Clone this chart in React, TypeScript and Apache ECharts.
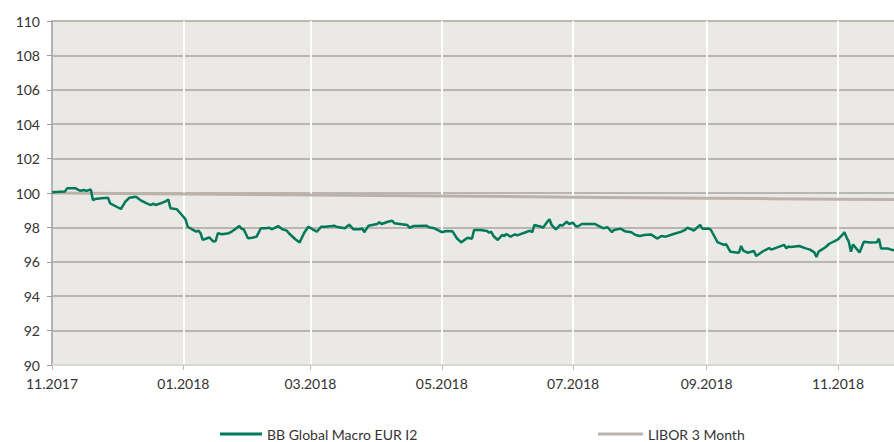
import React, { useEffect, useRef } from "react";
import * as echarts from "echarts";

const fundName = "BB Global Macro EUR I2";
const liborName = "LIBOR 3 Month";

const fundDates: string[] = [
  "2017-11-01","2017-11-07","2017-11-08","2017-11-12","2017-11-14","2017-11-16","2017-11-17","2017-11-19","2017-11-20","2017-11-21",
  "2017-11-24","2017-11-27","2017-11-28","2017-12-01","2017-12-03","2017-12-05","2017-12-07","2017-12-10","2017-12-12","2017-12-15",
  "2017-12-17","2017-12-18","2017-12-19","2017-12-22","2017-12-24","2017-12-25","2017-12-26","2017-12-29","2017-12-30","2018-01-01",
  "2018-01-02","2018-01-03","2018-01-05","2018-01-07","2018-01-08","2018-01-09","2018-01-10","2018-01-12","2018-01-13","2018-01-15",
  "2018-01-16","2018-01-17","2018-01-19","2018-01-22","2018-01-23","2018-01-25","2018-01-27","2018-01-28","2018-01-29","2018-01-31",
  "2018-02-02","2018-02-04","2018-02-06","2018-02-08","2018-02-10","2018-02-11","2018-02-14","2018-02-16","2018-02-18","2018-02-19",
  "2018-02-22","2018-02-24","2018-02-26","2018-02-28","2018-03-02","2018-03-04","2018-03-06","2018-03-08","2018-03-11","2018-03-12",
  "2018-03-13","2018-03-17","2018-03-19","2018-03-21","2018-03-24","2018-03-25","2018-03-26","2018-03-28","2018-04-01","2018-04-02",
  "2018-04-03","2018-04-06","2018-04-08","2018-04-09","2018-04-15","2018-04-16","2018-04-18","2018-04-24","2018-04-25","2018-04-27",
  "2018-04-29","2018-05-01","2018-05-03","2018-05-06","2018-05-08","2018-05-10","2018-05-12","2018-05-13","2018-05-15","2018-05-16",
  "2018-05-19","2018-05-22","2018-05-23","2018-05-24","2018-05-25","2018-05-27","2018-05-29","2018-05-30","2018-05-31","2018-06-02",
  "2018-06-04","2018-06-05","2018-06-09","2018-06-11","2018-06-12","2018-06-13","2018-06-16","2018-06-17","2018-06-19","2018-06-20",
  "2018-06-21","2018-06-23","2018-06-25","2018-06-26","2018-06-28","2018-06-29","2018-07-01","2018-07-02","2018-07-03","2018-07-05",
  "2018-07-08","2018-07-11","2018-07-13","2018-07-15","2018-07-17","2018-07-19","2018-07-20","2018-07-23","2018-07-25","2018-07-28",
  "2018-07-30","2018-08-01","2018-08-03","2018-08-06","2018-08-07","2018-08-09","2018-08-11","2018-08-13","2018-08-17","2018-08-20",
  "2018-08-22","2018-08-23","2018-08-25","2018-08-26","2018-08-28","2018-08-29","2018-08-30","2018-09-02","2018-09-03","2018-09-06",
  "2018-09-09","2018-09-10","2018-09-12","2018-09-16","2018-09-17","2018-09-18","2018-09-20","2018-09-23","2018-09-24","2018-09-27",
  "2018-09-30","2018-10-01","2018-10-07","2018-10-08","2018-10-09","2018-10-10","2018-10-14","2018-10-17","2018-10-19","2018-10-21",
  "2018-10-22","2018-10-23","2018-10-26","2018-10-28","2018-10-30","2018-11-01","2018-11-03","2018-11-04","2018-11-05","2018-11-06",
  "2018-11-07","2018-11-08","2018-11-11","2018-11-13","2018-11-16","2018-11-19","2018-11-20","2018-11-21","2018-11-24","2018-11-26",
  "2018-11-27"
];

const fundValues: number[] = [
  100.05,100.08,100.27,100.27,100.13,100.17,100.12,100.21,99.59,99.65,
  99.69,99.72,99.40,99.20,99.07,99.49,99.73,99.78,99.59,99.40,
  99.30,99.38,99.30,99.42,99.53,99.63,99.11,99.05,98.91,98.62,
  98.47,98.04,97.89,97.75,97.81,97.66,97.27,97.37,97.42,97.17,
  97.21,97.66,97.60,97.66,97.72,97.89,98.08,97.92,97.89,97.37,
  97.40,97.46,97.95,97.95,97.98,97.89,98.08,97.89,97.81,97.66,
  97.31,97.13,97.66,98.04,97.89,97.75,98.04,98.04,98.08,98.10,
  98.04,97.95,98.16,97.89,97.89,97.95,97.72,98.10,98.20,98.31,
  98.20,98.33,98.39,98.24,98.14,97.98,98.08,98.10,98.01,97.97,
  97.85,97.72,97.79,97.77,97.37,97.13,97.31,97.40,97.34,97.85,
  97.85,97.79,97.69,97.75,97.50,97.27,97.56,97.50,97.62,97.46,
  97.60,97.54,97.72,97.81,97.72,98.14,98.04,97.98,98.33,98.47,
  98.14,97.89,98.14,98.10,98.33,98.20,98.27,98.10,98.04,98.20,
  98.20,98.20,98.08,97.95,98.01,97.72,97.85,97.93,97.78,97.72,
  97.56,97.50,97.56,97.59,97.52,97.35,97.50,97.46,97.63,97.74,
  97.85,97.98,97.88,97.81,98.04,98.15,97.92,97.94,97.85,97.15,
  96.98,97.03,96.59,96.53,96.92,96.65,96.53,96.63,96.34,96.60,
  96.80,96.71,96.98,96.78,96.89,96.86,96.92,96.78,96.71,96.55,
  96.28,96.59,96.83,97.05,97.18,97.30,97.56,97.72,97.41,97.17,
  96.59,97.01,96.54,97.17,97.12,97.13,97.34,96.77,96.78,96.69,
  96.69
];

const liborDates: string[] = [
  "2017-11-01","2017-12-01","2018-01-01","2018-02-01","2018-03-01","2018-04-01","2018-05-01",
  "2018-06-01","2018-07-01","2018-08-01","2018-09-01","2018-10-01","2018-11-01","2018-11-27"
];
const liborValues: number[] = [
  100.0, 99.97, 99.94, 99.91, 99.88, 99.85, 99.82, 99.79, 99.76, 99.73, 99.7, 99.67, 99.64, 99.62
];

const xTickDates: string[] = [
  "2017-11-01","2018-01-01","2018-03-01","2018-05-01","2018-07-01","2018-09-01","2018-11-01"
];
const xStart = "2017-11-01";
const xEnd = "2018-11-27";
const yMin = 90;
const yMax = 110;
const yStep = 2;

const toTs = (s: string): number => {
  const [y, m, d] = s.split("-").map(Number);
  return new Date(y, m - 1, d).getTime();
};

const FONT = "Lato";

export default function App() {
  const ref = useRef<HTMLDivElement>(null);

  useEffect(() => {
    if (!ref.current) return;
    const chart = echarts.init(ref.current, undefined, { renderer: "svg" });
    const tickTs = xTickDates.map(toTs);
    chart.setOption({
      animation: false,
      textStyle: { fontFamily: FONT },
      grid: {
        left: 52,
        right: 0,
        top: 21,
        bottom: 77,
        show: true,
        backgroundColor: "#ebe9e5",
        borderWidth: 0,
      },
      legend: [
        {
          data: [fundName],
          left: 220,
          top: 427,
          padding: 0,
          icon: "rect",
          itemWidth: 42,
          itemHeight: 3,
          textStyle: { fontFamily: FONT, fontSize: 14, color: "#333" },
        },
        {
          data: [liborName],
          left: 598,
          top: 427,
          padding: 0,
          icon: "rect",
          itemWidth: 45,
          itemHeight: 3,
          textStyle: { fontFamily: FONT, fontSize: 14, color: "#333" },
        },
      ],
      xAxis: {
        type: "value",
        min: toTs(xStart),
        max: toTs(xEnd),
        axisLine: { show: true, lineStyle: { color: "#d9d7d3", width: 2 } },
        axisTick: {
          show: true,
          customValues: tickTs,
          length: 5,
          lineStyle: { color: "#bdbdbd", width: 1 },
        },
        axisLabel: {
          customValues: tickTs,
          margin: 11,
          fontFamily: FONT,
          fontSize: 14,
          color: "#333",
          formatter: (v: number) => {
            const d = new Date(v);
            const mm = String(d.getMonth() + 1).padStart(2, "0");
            return `${mm}.${d.getFullYear()}`;
          },
        },
        splitLine: { show: true, lineStyle: { color: "#ffffff", width: 2 } },
      },
      yAxis: {
        type: "value",
        min: yMin,
        max: yMax,
        interval: yStep,
        axisLine: { show: true, lineStyle: { color: "#b3b3b3", width: 2 } },
        axisTick: { show: true, length: 5, lineStyle: { color: "#9a9a9a", width: 1 } },
        axisLabel: {
          margin: 12,
          fontFamily: FONT,
          fontSize: 14,
          color: "#333",
        },
        splitLine: { show: true, lineStyle: { color: "#a8a4a0", width: 1.5 } },
      },
      series: [
        {
          name: liborName,
          type: "line",
          showSymbol: false,
          symbol: "none",
          lineStyle: { color: "#bbb3ab", width: 3 },
          itemStyle: { color: "#bbb3ab" },
          data: liborDates.map((d, i) => [toTs(d), liborValues[i]]),
          z: 2,
        },
        {
          name: fundName,
          type: "line",
          showSymbol: false,
          symbol: "none",
          lineStyle: { color: "#00785a", width: 2.5 },
          itemStyle: { color: "#00785a" },
          data: fundDates.map((d, i) => [toTs(d), fundValues[i]]),
          z: 3,
        },
      ],
    });
    return () => chart.dispose();
  }, []);

  return <div ref={ref} style={{ width: 894, height: 442, position: "absolute", left: 0, top: 0 }} />;
}
